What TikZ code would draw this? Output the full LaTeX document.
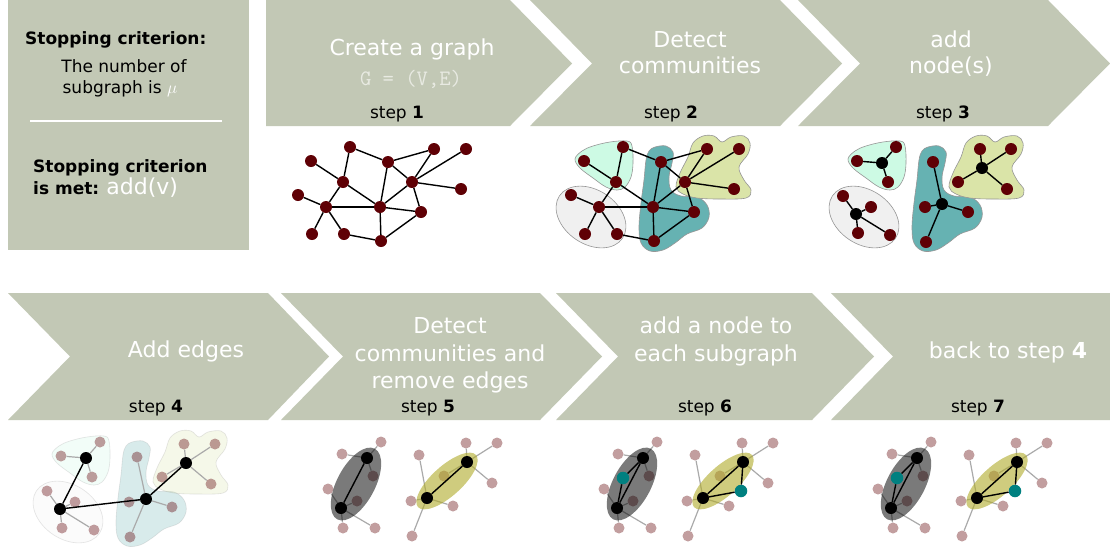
\documentclass[tikz,border=0pt]{standalone}
\usepackage{fontspec}
\setmainfont{DejaVu Sans}
\definecolor{chev}{RGB}{194,200,181}
\definecolor{nodered}{RGB}{95,0,5}
\definecolor{mintc}{RGB}{205,250,228}
\definecolor{tealc}{RGB}{102,178,178}
\definecolor{yelc}{RGB}{218,228,168}
\definecolor{grayc}{RGB}{240,240,240}
\definecolor{blobline}{RGB}{150,150,150}
\definecolor{fadeedge}{RGB}{170,170,170}
\definecolor{tealnode}{RGB}{0,128,128}
\definecolor{olivec}{RGB}{175,170,40}
\definecolor{gtext}{RGB}{232,234,226}

\newcommand\basegraph[1]{%
  \node[rn] (#1a) at (350,147) {};
  \node[rn] (#1b) at (311,161) {};
  \node[rn] (#1c) at (388,162) {};
  \node[rn] (#1d) at (434,149) {};
  \node[rn] (#1e) at (466,149) {};
  \node[rn] (#1f) at (343,182) {};
  \node[rn] (#1g) at (412,182) {};
  \node[rn] (#1h) at (461,189) {};
  \node[rn] (#1i) at (298,195) {};
  \node[rn] (#1j) at (326,207) {};
  \node[rn] (#1k) at (380,207) {};
  \node[rn] (#1l) at (421,212) {};
  \node[rn] (#1m) at (312,234) {};
  \node[rn] (#1n) at (344,234) {};
  \node[rn] (#1o) at (381,241) {};
  \foreach \u/\v in {a/c,a/f,c/d,c/g,c/k,d/g,e/g,g/h,g/k,g/l,b/f,f/j,f/k,i/j,j/k,j/m,j/n,n/o,k/o,k/l,l/o}
    \draw[gedge] (#1\u) -- (#1\v);
}

\newcommand\drawblobs[1]{%
  \path[blob, fill=mintc, opacity=#1] plot[smooth cycle, tension=0.6] coordinates {(575,159) (582,151) (593,146) (610,142) (627,141) (632,146) (633,163) (631,177) (625,187) (617,190) (606,187) (593,178) (580,168)};
  \path[blob, fill=grayc, opacity=#1, rotate around={-34:(591,217)}] (591,217) ellipse [x radius=38pt, y radius=27pt];
  \path[blob, fill=tealc, opacity=#1] plot[smooth cycle, tension=0.6] coordinates {(655,147) (666,146) (673,152) (672,163) (669,177) (671,190) (681,196) (697,197) (707,205) (709,217) (702,228) (687,234) (675,243) (663,250) (650,251) (641,243) (639,227) (641,203) (644,180) (646,160) (649,151)};
  \path[blob, fill=yelc, opacity=#1] plot[smooth cycle, tension=0.6] coordinates {(676,187) (680,173) (688,157) (693,143) (703,136) (714,136) (722,142) (731,137) (744,136) (750,143) (748,154) (739,167) (744,180) (751,190) (746,198) (720,199) (697,198) (683,194)};
}

\newcommand\clustergraph[3]{%
  \node[bn] (#1M) at (882,163) {};
  \node[#2] (#1m1) at (896,147) {};
  \node[#2] (#1m2) at (857,161) {};
  \node[#2] (#1m3) at (888,182) {};
  \node[bn] (#1G) at (856,214) {};
  \node[#2] (#1g1) at (843,196) {};
  \node[#2] (#1g2) at (871,207) {};
  \node[#2] (#1g3) at (858,233) {};
  \node[#2] (#1g4) at (890,235) {};
  \node[bn] (#1T) at (942,204) {};
  \node[#2] (#1t1) at (933,162) {};
  \node[#2] (#1t2) at (925,207) {};
  \node[#2] (#1t3) at (968,212) {};
  \node[#2] (#1t4) at (926,242) {};
  \node[bn] (#1Y) at (982,168) {};
  \node[#2] (#1y1) at (980,149) {};
  \node[#2] (#1y2) at (1011,149) {};
  \node[#2] (#1y3) at (958,182) {};
  \node[#2] (#1y4) at (1007,189) {};
  \foreach \v in {m1,m2,m3} \draw[#3] (#1M) -- (#1\v);
  \foreach \v in {g1,g2,g3,g4} \draw[#3] (#1G) -- (#1\v);
  \foreach \v in {t1,t2,t3,t4} \draw[#3] (#1T) -- (#1\v);
  \foreach \v in {y1,y2,y3,y4} \draw[#3] (#1Y) -- (#1\v);
}

\newcommand\pairgraph[2]{%
  \node[fn] (#1f1) at (657,442) {};
  \node[fn] (#1f2) at (618,454) {};
  \node[fn] (#1f3) at (649,476) {};
  \node[fn] (#1f4) at (604,489) {};
  \node[fn] (#1f5) at (633,501) {};
  \node[fn] (#1f6) at (619,528) {};
  \node[fn] (#1f7) at (651,528) {};
  \node[fn] (#1h1) at (742,443) {};
  \node[fn] (#1h2) at (773,443) {};
  \node[fn] (#1h3) at (720,476) {};
  \node[fn] (#1h4) at (768,483) {};
  \node[fn] (#1h5) at (695,455) {};
  \node[fn] (#1h6) at (687,501) {};
  \node[fn] (#1h7) at (729,506) {};
  \node[fn] (#1h8) at (688,536) {};
  \coordinate (#1B1) at (643,458);
  \coordinate (#1B2) at (617,508);
  \coordinate (#1B3) at (743,462);
  \coordinate (#1B4) at (703,498);
  \foreach \v in {f1,f2,f3} \draw[fedge] (#1B1) -- (#1\v);
  \foreach \v in {f4,f5,f6,f7} \draw[fedge] (#1B2) -- (#1\v);
  \foreach \v in {h1,h2,h3,h4} \draw[fedge] (#1B3) -- (#1\v);
  \foreach \v in {h5,h6,h7,h8} \draw[fedge] (#1B4) -- (#1\v);
  \path[fill=black, fill opacity=0.52, rotate around={62:(632,484)}] (632,484) ellipse [x radius=40pt, y radius=19pt];
  \path[fill=olivec, fill opacity=0.6, rotate around={42:(723,481)}] (723,481) ellipse [x radius=39pt, y radius=15pt];
  \node[bn] (#1b1) at (#1B1) {};
  \node[bn] (#1b2) at (#1B2) {};
  \node[bn] (#1b3) at (#1B3) {};
  \node[bn] (#1b4) at (#1B4) {};
  \draw[gedge] (#1b1) -- (#1b2);
  \draw[gedge] (#1b3) -- (#1b4);
  \ifnum#2=1
    \node[tn] (#1t1) at (623,478) {};
    \node[tn] (#1t2) at (741,491) {};
    \draw[gedge] (#1b1) -- (#1t1) -- (#1b2);
    \draw[gedge] (#1b3) -- (#1t2) -- (#1b4);
  \fi
}

\begin{document}
\begin{tikzpicture}[x=1pt,y=-1pt,
  chevron/.style={fill=chev, draw=none},
  title/.style={text=white, font=\fontsize{22}{28}\selectfont, anchor=base, inner sep=0},
  steplbl/.style={text=black, font=\fontsize{17}{20}\selectfont, anchor=base, inner sep=0},
  boxtxt/.style={font=\fontsize{17}{21}\selectfont, inner sep=0},
  rn/.style={circle, fill=nodered, inner sep=0, minimum size=12pt},
  bn/.style={circle, fill=black, inner sep=0, minimum size=12pt},
  tn/.style={circle, fill=tealnode, inner sep=0, minimum size=12.5pt},
  fn/.style={circle, fill=nodered, fill opacity=0.38, inner sep=0, minimum size=11pt},
  gedge/.style={black, line width=1.4pt},
  fedge/.style={fadeedge, line width=1.2pt},
  blob/.style={draw=blobline, line width=0.6pt},
]
\useasboundingbox (0,0) rectangle (1110,547);
\fill[white] (0,0) rectangle (1110,547);

% left box
\fill[chev] (8,0) rectangle (249,250);
\node[boxtxt, anchor=base west, font=\fontsize{17}{21}\selectfont\bfseries] (sc1) at (25,44) {Stopping criterion:};
\node[boxtxt, anchor=base] (sc2) at (124,72) {The number of};
\node[boxtxt, anchor=base] (sc3) at (120,93) {subgraph is {\color{white}$\mu$}};
\coordinate (rl) at (30,121);
\coordinate (rr) at (222,121);
\draw[white, line width=2pt] (rl) -- (rr);
\node[boxtxt, anchor=base west, font=\fontsize{17}{21}\selectfont\bfseries] (sc4) at (33,172) {Stopping criterion};
\node[boxtxt, anchor=base west] (sc5) at (33,194) {\textbf{is met:} {\color{white}\fontsize{22}{26}\selectfont add(v)}};

% top chevrons
\path[chevron] (266,0) -- (510,0) -- (572,63.5) -- (510,126) -- (266,126) -- cycle;
\path[chevron] (530,0) -- (780,0) -- (842,63.5) -- (780,126) -- (530,126) -- (592,63.5) -- cycle;
\path[chevron] (798,0) -- (1048,0) -- (1110,63.5) -- (1048,126) -- (798,126) -- (860,63.5) -- cycle;

% bottom chevrons
\path[chevron] (8,293) -- (268,293) -- (329,356.5) -- (268,420) -- (8,420) -- (70,356.5) -- cycle;
\path[chevron] (281,293) -- (540,293) -- (602,356.5) -- (540,420) -- (281,420) -- (343,356.5) -- cycle;
\path[chevron] (556,293) -- (812,293) -- (874,356.5) -- (812,420) -- (556,420) -- (618,356.5) -- cycle;
\path[chevron] (831,293) -- (1110,293) -- (1110,420) -- (831,420) -- (893,356.5) -- cycle;

% titles
\node[title] (t1a) at (412,55) {Create a graph};
\node[title, text=gtext, font=\fontsize{22}{28}\selectfont\ttfamily] (t1b) at (411,85) {G = (V,E)};
\node[steplbl] (s1) at (397,118) {step \textbf{1}};
\node[title] (t2a) at (690,47) {Detect};
\node[title] (t2b) at (690,73) {communities};
\node[steplbl] (s2) at (671,118) {step \textbf{2}};
\node[title] (t3a) at (951,47) {add};
\node[title] (t3b) at (951,73) {node(s)};
\node[steplbl] (s3) at (943,118) {step \textbf{3}};
\node[title] (t4a) at (186,357) {Add edges};
\node[steplbl] (s4) at (156,412) {step \textbf{4}};
\node[title] (t5a) at (450,333) {Detect};
\node[title] (t5b) at (450,361) {communities and};
\node[title] (t5c) at (450,388) {remove edges};
\node[steplbl] (s5) at (428,412) {step \textbf{5}};
\node[title] (t6a) at (716,333) {add a node to};
\node[title] (t6b) at (716,361) {each subgraph};
\node[steplbl] (s6) at (705,412) {step \textbf{6}};
\node[title] (t7a) at (1008,358) {back to step \textbf{4}};
\node[steplbl] (s7) at (978,412) {step \textbf{7}};

% step 1
\basegraph{p1}
% step 2
\drawblobs{1}
\begin{scope}[shift={(273,0)}]
  \basegraph{p2}
\end{scope}
% step 3
\begin{scope}[shift={(273,0)}]
  \drawblobs{1}
\end{scope}
\clustergraph{p3}{rn}{gedge}
% step 4
\begin{scope}[shift={(-523,295)}]
  \drawblobs{0.25}
\end{scope}
\begin{scope}[shift={(-796,295)}]
  \clustergraph{p4}{fn}{fedge}
  \draw[gedge] (p4M) -- (p4G) -- (p4T) -- (p4Y);
\end{scope}
% step 5
\begin{scope}[shift={(-276,0)}]
  \pairgraph{p5}{0}
\end{scope}
% step 6
\pairgraph{p6}{1}
% step 7
\begin{scope}[shift={(274,0)}]
  \pairgraph{p7}{1}
\end{scope}
\end{tikzpicture}
\end{document}
